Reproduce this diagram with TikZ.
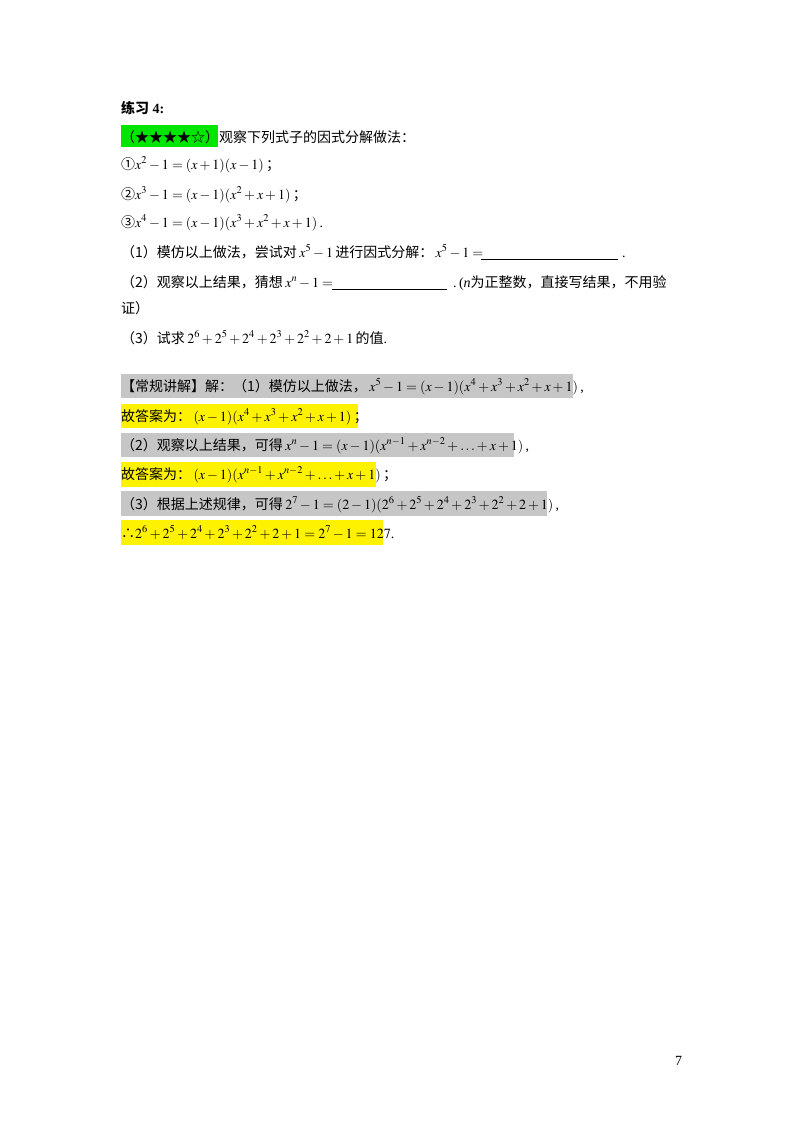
\documentclass[tikz,border=0pt]{standalone}
\usepackage{mathptmx}
\usepackage{fontspec}
\setmainfont{Liberation Serif}
\newfontfamily\cjk{Noto Sans CJK SC}
\begin{document}
\begin{tikzpicture}[x=1pt,y=-1pt,
 t/.style={anchor=base west,inner sep=0pt,font=\fontsize{14}{16}\selectfont}]
\useasboundingbox (0,0) rectangle (800,1132);
\fill[white] (0,0) rectangle (800,1132);
\fill[fill={rgb,255:red,0;green,230;blue,0}] (121,125) rectangle (218,147);
\fill[gray!45] (121,374) rectangle (573,398);
\fill[yellow] (121,404) rectangle (358,428);
\fill[gray!45] (121,433) rectangle (514,457);
\fill[yellow] (121,462) rectangle (376,487);
\fill[gray!45] (121,491) rectangle (547,516);
\fill[yellow] (121,520) rectangle (383,545);
\node[t] (h) at (121,113) {{\cjk\bfseries 练习} \textbf{4:}};
\node[t] (l1) at (121,142) {\cjk（★★★★☆）观察下列式子的因式分解做法：};
\node[t] (a) at (121,169) {{\cjk ①}$x^2-1=(x+1)(x-1)$\,{\cjk ；}};
\node[t] (b) at (121,199) {{\cjk ②}$x^3-1=(x-1)(x^2+x+1)$\,{\cjk ；}};
\node[t] (c) at (121,227) {{\cjk ③}$x^4-1=(x-1)(x^3+x^2+x+1)$\,.};
\node[t] (q1) at (121,257) {{\cjk （1）模仿以上做法，尝试对}\,$x^5-1$\,{\cjk 进行因式分解：}\,$x^5-1=$};
\draw (481,259) -- (618,259);
\node[t] (q1e) at (622,257) {.};
\node[t] (q2) at (121,287) {{\cjk （2）观察以上结果，猜想}\,$x^n-1=$};
\draw (332,289) -- (447,289);
\node[t] (q2e) at (453,287) {.\,({\itshape n}{\cjk 为正整数，直接写结果，不用验}};
\node[t] (q2f) at (121,313) {\cjk 证）};
\node[t] (q3) at (121,343) {{\cjk （3）试求}\,$2^6+2^5+2^4+2^3+2^2+2+1$\,{\cjk 的值}.};
\node[t] (s1) at (121,391) {{\cjk 【常规讲解】解：（1）模仿以上做法，}\,$x^5-1=(x-1)(x^4+x^3+x^2+x+1)$\,,};
\node[t] (s2) at (121,421) {{\cjk 故答案为：}\,$(x-1)(x^4+x^3+x^2+x+1)$\,{\cjk ；}};
\node[t] (s3) at (121,450) {{\cjk （2）观察以上结果，可得}\,$x^n-1=(x-1)(x^{n-1}+x^{n-2}+\ldots+x+1)$\,,};
\node[t] (s4) at (121,479) {{\cjk 故答案为：}\,$(x-1)(x^{n-1}+x^{n-2}+\ldots+x+1)$\,{\cjk ；}};
\node[t] (s5) at (121,509) {{\cjk （3）根据上述规律，可得}\,$2^7-1=(2-1)(2^6+2^5+2^4+2^3+2^2+2+1)$\,,};
\node[t] (s6) at (121,538) {{\cjk ∴}$2^6+2^5+2^4+2^3+2^2+2+1=2^7-1=127$.};
\node[t] (pg) at (675,1065) {7};
\end{tikzpicture}
\end{document}
